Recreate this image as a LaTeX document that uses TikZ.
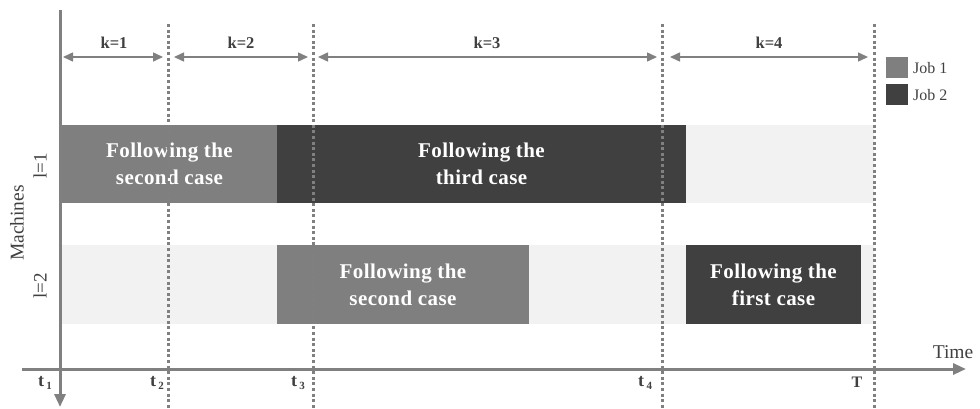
\documentclass[tikz,border=0pt]{standalone}
\usepackage{fontspec}
\setmainfont{Liberation Serif}
\usetikzlibrary{arrows.meta}
\definecolor{jobone}{HTML}{7F7F7F}
\definecolor{jobtwo}{HTML}{404040}
\definecolor{idle}{HTML}{F2F2F2}
\definecolor{axisgray}{HTML}{808080}
\definecolor{ink}{HTML}{404040}

\begin{document}
\begin{tikzpicture}[x=1pt,y=-1pt,
  slot/.style={anchor=north west, inner sep=0pt, outer sep=0pt, draw=none},
  jobA/.style={slot, fill=jobone},
  jobB/.style={slot, fill=jobtwo},
  idlebar/.style={slot, fill=idle},
  casetext/.style={text=white, font=\fontsize{21}{27}\selectfont\bfseries\addfontfeatures{LetterSpace=2}, align=center},
  axisline/.style={draw=axisgray, line width=3pt, -{Triangle[length=13pt,width=11pt]}},
  boundary/.style={draw=axisgray, line width=3pt, dash pattern=on 3pt off 2.6pt},
  span/.style={draw=axisgray, line width=1.5pt, {Triangle[length=10pt,width=9pt]}-{Triangle[length=10pt,width=9pt]}},
  klabel/.style={text=ink, font=\fontsize{16.5}{16.5}\selectfont\bfseries},
  tlabel/.style={text=ink, font=\fontsize{18}{18}\selectfont\bfseries},
  tsub/.style={},
  plain/.style={text=ink, font=\fontsize{19.5}{19.5}\selectfont},
  swatch/.style={slot, minimum width=22pt, minimum height=21pt},
  legendtext/.style={text=ink, font=\fontsize{16}{16}\selectfont, anchor=west, inner sep=0pt}
]
\useasboundingbox (0,0) rectangle (980,408);

% idle background of each machine row
\node[idlebar, minimum width=812pt, minimum height=78pt] (row1) at (62,125) {};
\node[idlebar, minimum width=812pt, minimum height=79pt] (row2) at (62,245) {};

% machine l=1
\node[jobA, minimum width=215pt, minimum height=78pt, casetext] (m1a) at (62,125) {Following the\\second case};
\node[jobB, minimum width=409pt, minimum height=78pt, casetext] (m1b) at (277,125) {Following the\\third case};
% machine l=2
\node[jobA, minimum width=252pt, minimum height=79pt, casetext] (m2a) at (277,245) {Following the\\second case};
\node[jobB, minimum width=175pt, minimum height=79pt, casetext] (m2b) at (686,245) {Following the\\first case};

% period boundaries
\coordinate (b2top) at (168,24);  \coordinate (b2bot) at (168,408);
\coordinate (b3top) at (313,24);  \coordinate (b3bot) at (313,408);
\coordinate (b4top) at (662,24);  \coordinate (b4bot) at (662,408);
\coordinate (b5top) at (874,24);  \coordinate (b5bot) at (874,408);
\foreach \b in {2,3,4,5} \draw[boundary] (b\b top) -- (b\b bot);

% axes
\coordinate (yaxtop) at (60,10);  \coordinate (yaxtip) at (60,407);
\coordinate (xaxleft) at (22,369); \coordinate (xaxtip) at (966,369);
\draw[axisline] (yaxtop) -- (yaxtip);
\draw[axisline] (xaxleft) -- (xaxtip);

% period spans
\coordinate (k1l) at (63,57);  \coordinate (k1r) at (163,57);
\coordinate (k2l) at (174,57); \coordinate (k2r) at (308,57);
\coordinate (k3l) at (318,57); \coordinate (k3r) at (657,57);
\coordinate (k4l) at (670,57); \coordinate (k4r) at (868,57);
\draw[span] (k1l) -- (k1r);
\draw[span] (k2l) -- (k2r);
\draw[span] (k3l) -- (k3r);
\draw[span] (k4l) -- (k4r);
\node[klabel] (k1) at (114,43) {k=1};
\node[klabel] (k2) at (241,43) {k=2};
\node[klabel] (k3) at (487,43) {k=3};
\node[klabel] (k4) at (769,43) {k=4};

% time marks
\newcommand\tmark[1]{t\kern2.5pt\raisebox{-3.5pt}{\fontsize{11}{11}\selectfont #1}}
\node[tlabel] (t1) at (45,383) {\tmark{1}};
\node[tlabel] (t2) at (157,383) {\tmark{2}};
\node[tlabel] (t3) at (298,383) {\tmark{3}};
\node[tlabel] (t4) at (645,383) {\tmark{4}};
\node[tlabel, font=\fontsize{16}{16}\selectfont\bfseries] (tT) at (857,382) {T};
\node[plain] (time) at (953,352) {Time};

% machine labels
\node[plain, rotate=90] (machines) at (17,223) {Machines};
\node[text=ink, font=\fontsize{19}{19}\selectfont, rotate=90] (l1) at (40,166) {l=1};
\node[text=ink, font=\fontsize{19}{19}\selectfont, rotate=90] (l2) at (40,286) {l=2};

% legend
\node[swatch, fill=jobone] (sw1) at (886,57) {};
\node[swatch, fill=jobtwo] (sw2) at (886,84) {};
\node[legendtext] (lg1) at (913,68) {Job 1};
\node[legendtext] (lg2) at (913,95) {Job 2};
\end{tikzpicture}
\end{document}
